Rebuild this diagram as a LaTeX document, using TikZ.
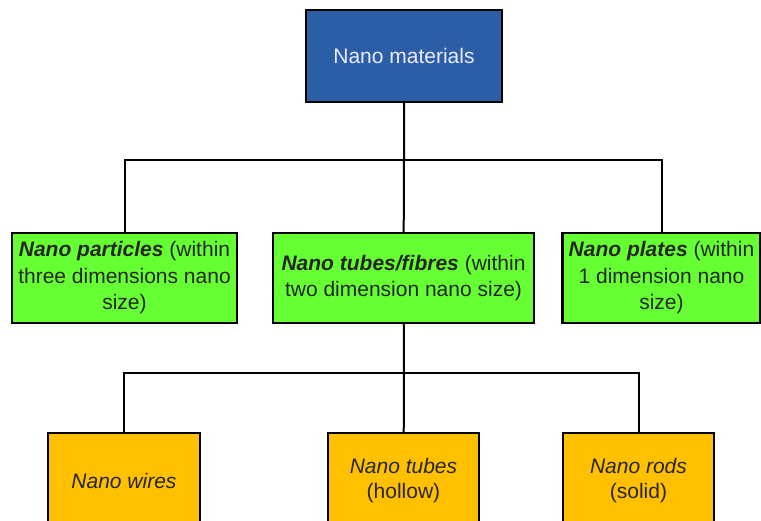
\documentclass[tikz,border=0pt]{standalone}
\usepackage{fontspec}
\setmainfont{Liberation Sans}
\usepackage{xcolor}
\usepackage{tikz}

\definecolor{matblue}{HTML}{2B5EA7}
\definecolor{typegreen}{HTML}{66FF33}
\definecolor{formorange}{HTML}{FFC000}

\newcommand{\bi}[1]{\textbf{\textit{#1}}}

\begin{document}
\begin{tikzpicture}[x=1pt, y=-1pt, % pixel-like coordinates
        box/.style={draw=black, line width=2.4pt, align=center, inner sep=0pt,
            font=\fontsize{21}{26.5}\selectfont},
        topbox/.style={box, fill=matblue, text=white!92!blue, minimum width=196pt, minimum height=92pt},
        midbox/.style={box, fill=typegreen, text=black!85, minimum height=90pt},
        leafbox/.style={box, fill=formorange, text=black!85, minimum width=151pt, minimum height=96pt,
            font=\fontsize{21}{25}\selectfont},
        link/.style={line width=2pt}]
        \useasboundingbox (0,0) rectangle (761,521);

        % Root
        \node[topbox] (mat) at (404,56) {Nano materials};

        % Types
        \node[midbox, minimum width=225pt] (part) at (124.5,278) {\bi{Nano particles} (within\\three dimensions nano\\size)};
        \node[midbox, minimum width=261pt] (tube) at (403.5,278) {\bi{Nano tubes/fibres} (within\\two dimension nano size)};
        \node[midbox, minimum width=198pt] (plate) at (661.5,278) {\bi{Nano plates} (within\\1 dimension nano\\size)};

        % Forms of tubes/fibres
        \node[leafbox, minimum width=152pt] (wire) at (124,481) {\textit{Nano wires}};
        \node[leafbox] (tubes) at (403.5,481) {\textit{Nano tubes}\\(hollow)};
        \node[leafbox] (rods) at (638.5,481) {\textit{Nano rods}\\(solid)};

        % Connectors
        \coordinate (j1) at (404,160);
        \coordinate (j2) at (404,373);
        \draw[link] (mat) -- (j1) -- (tube);
        \draw[link] (part.north) |- (j1) -| (plate.north);
        \draw[link] (tube) -- (j2) -- (tubes);
        \draw[link] (wire.north) |- (j2) -| (rods.north);
    \end{tikzpicture}
\end{document}
